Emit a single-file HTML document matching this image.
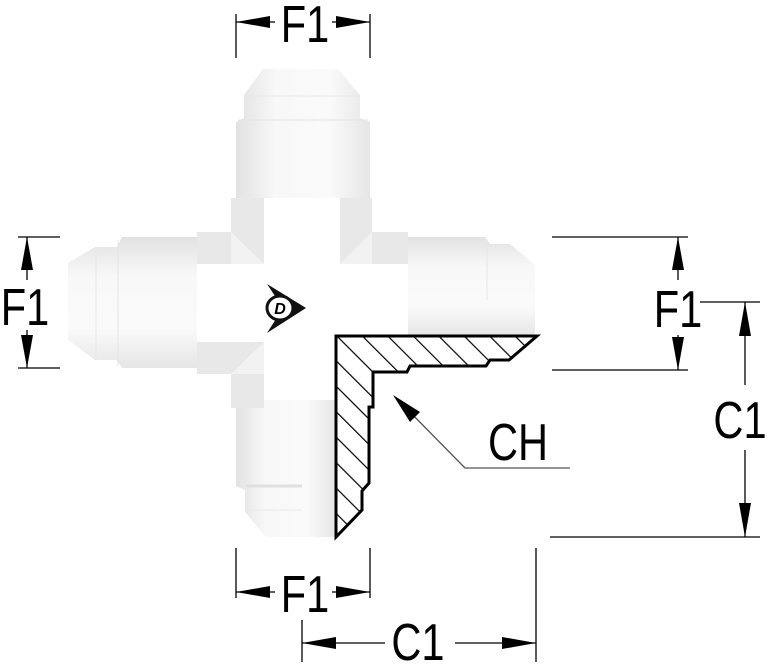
<!DOCTYPE html>
<html><head><style>
html,body{margin:0;padding:0;background:#fff;width:768px;height:667px;overflow:hidden;}
svg{display:block;}
text{font-family:"Liberation Sans",sans-serif;fill:#000;}
</style></head><body>
<svg width="768" height="667" viewBox="0 0 768 667" xmlns="http://www.w3.org/2000/svg">
<defs>
<linearGradient id="gv" x1="0" x2="1" y1="0" y2="0">
<stop offset="0" stop-color="#e2e2e2"/><stop offset="0.3" stop-color="#f8f8f8"/><stop offset="0.7" stop-color="#fafafa"/><stop offset="1" stop-color="#e6e6e6"/></linearGradient>
<linearGradient id="gh" x1="0" x2="0" y1="0" y2="1">
<stop offset="0" stop-color="#e2e2e2"/><stop offset="0.3" stop-color="#f8f8f8"/><stop offset="0.7" stop-color="#fafafa"/><stop offset="1" stop-color="#e6e6e6"/></linearGradient>
<pattern id="hat" patternUnits="userSpaceOnUse" width="18" height="18" patternTransform="rotate(-45)">
<rect width="18" height="18" fill="#fff"/>
<line x1="0" y1="0" x2="0" y2="18" stroke="#000" stroke-width="2.4"/>
</pattern>
</defs>
<polygon points="263,69 338,69 360,95 360,118 370,122 370,200 236,200 236,122 244,118 244,95" fill="url(#gv)"/>
<line x1="244" y1="96" x2="360" y2="96" stroke="#e8e8e8"/>
<line x1="238" y1="120" x2="368" y2="120" stroke="#e4e4e4"/>
<polygon points="236,400 336,400 336,537 266,537 245,512 245,490 236,486" fill="url(#gv)"/>
<line x1="246" y1="486" x2="302" y2="486" stroke="#e0e0e0" stroke-width="3"/>
<line x1="246" y1="510" x2="302" y2="510" stroke="#e8e8e8"/>
<polygon points="68,263 95,247 117,247 122,237 197,237 197,368 122,368 117,360 95,360 68,340" fill="url(#gh)"/>
<line x1="96" y1="248" x2="96" y2="359" stroke="#e8e8e8"/>
<line x1="118" y1="240" x2="118" y2="366" stroke="#e4e4e4"/>
<polygon points="408,237 485,237 490,244 510,244 535,265 535,336 408,336" fill="url(#gh)"/>
<line x1="487" y1="240" x2="487" y2="300" stroke="#e6e6e6"/>
<rect x="264" y="198" width="76" height="202" fill="#fff"/>
<rect x="197" y="264" width="211" height="78" fill="#fff"/>
<g fill="#e8e8e8">
<rect x="231" y="198" width="33" height="66"/><rect x="197" y="232" width="67" height="32"/>
<rect x="340" y="198" width="32" height="66"/><rect x="340" y="232" width="68" height="32"/>
<rect x="197" y="342" width="67" height="32"/><rect x="231" y="342" width="33" height="66"/>
</g>
<g fill="#f2f2f2">
<polygon points="231,232 264,264 231,264"/><polygon points="372,232 340,264 372,264"/><polygon points="231,374 264,342 264,374"/>
</g>
<polygon points="267,284 306,308 267,333 283,308" fill="#111"/>
<ellipse cx="280" cy="308" rx="13" ry="12" fill="#fff" stroke="#111" stroke-width="3"/>
<text x="280" y="314" font-size="16" font-weight="bold" font-style="italic" text-anchor="middle">D</text>
<polygon points="336,336 537,336 509,360 490,360 486,366 410,366 407,372 373,372 373,407 369,407 369,483 362,491 362,510 336,537" fill="url(#hat)" stroke="#000" stroke-width="3"/>
<g stroke="#000" stroke-width="1.3" fill="none">
<line x1="236" y1="14" x2="236" y2="58"/><line x1="370" y1="14" x2="370" y2="58"/>
<line x1="236" y1="548" x2="236" y2="598"/><line x1="370" y1="548" x2="370" y2="598"/>
<line x1="302" y1="620" x2="302" y2="662"/><line x1="536" y1="548" x2="536" y2="662"/>
<line x1="18" y1="237" x2="60" y2="237"/><line x1="18" y1="368" x2="60" y2="368"/>
<line x1="552" y1="237" x2="688" y2="237"/><line x1="552" y1="370" x2="688" y2="370"/>
<line x1="700" y1="302" x2="760" y2="302"/><line x1="550" y1="537" x2="760" y2="537"/>
<line x1="236" y1="22" x2="275" y2="22"/><line x1="332" y1="22" x2="370" y2="22"/>
<line x1="236" y1="592" x2="275" y2="592"/><line x1="332" y1="592" x2="370" y2="592"/>
<line x1="302" y1="643" x2="385" y2="643"/><line x1="455" y1="643" x2="536" y2="643"/>
<line x1="27" y1="237" x2="27" y2="280"/><line x1="27" y1="330" x2="27" y2="368"/>
<line x1="678" y1="237" x2="678" y2="280"/><line x1="678" y1="335" x2="678" y2="370"/>
<line x1="745" y1="302" x2="745" y2="385"/><line x1="745" y1="450" x2="745" y2="537"/>
<polyline points="402,404 465,468 570,468" stroke="#555"/>
</g>
<g fill="#000">
<polygon points="236,22 270,16 270,28"/><polygon points="370,22 336,16 336,28"/>
<polygon points="236,592 270,586 270,598"/><polygon points="370,592 336,586 336,598"/>
<polygon points="302,643 336,637 336,649"/><polygon points="536,643 502,637 502,649"/>
<polygon points="27,237 21,270 33,270"/><polygon points="27,368 21,335 33,335"/>
<polygon points="678,237 672,270 684,270"/><polygon points="678,370 672,337 684,337"/>
<polygon points="745,302 739,336 751,336"/><polygon points="745,537 739,503 751,503"/>
<polygon points="393,395 420,412 410,422"/>
</g>
<g font-size="52">
<text x="305" y="42" text-anchor="middle" transform="translate(305 0) scale(0.8 1) translate(-305 0)">F1</text>
<text x="305" y="612" text-anchor="middle" transform="translate(305 0) scale(0.8 1) translate(-305 0)">F1</text>
<text x="418" y="660" text-anchor="middle" transform="translate(418 0) scale(0.8 1) translate(-418 0)">C1</text>
<text x="25" y="325" text-anchor="middle" transform="translate(25 0) scale(0.8 1) translate(-25 0)">F1</text>
<text x="678" y="327" text-anchor="middle" transform="translate(678 0) scale(0.8 1) translate(-678 0)">F1</text>
<text x="740" y="438" text-anchor="middle" transform="translate(740 0) scale(0.8 1) translate(-740 0)">C1</text>
<text x="518" y="460" text-anchor="middle" transform="translate(518 0) scale(0.8 1) translate(-518 0)">CH</text>
</g>
</svg>
</body></html>
